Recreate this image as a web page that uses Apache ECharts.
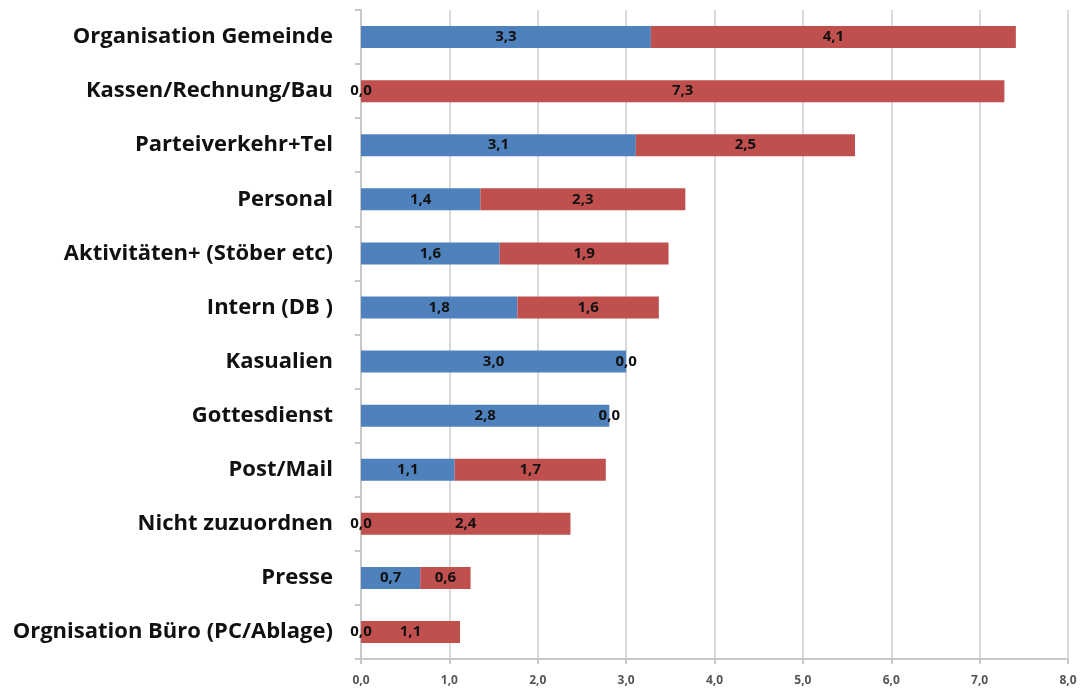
<!DOCTYPE html>
<html><head><meta charset="utf-8">
<script src="https://cdn.jsdelivr.net/npm/echarts@6/dist/echarts.min.js"></script>
<style>html,body{margin:0;padding:0;background:#fff}#c{width:1092px;height:691px}</style>
</head><body><div id="c"></div>
<script>
var categories = ["Organisation Gemeinde","Kassen/Rechnung/Bau","Parteiverkehr+Tel","Personal","Aktivitäten+ (Stöber etc)","Intern (DB )","Kasualien","Gottesdienst","Post/Mail","Nicht zuzuordnen","Presse","Orgnisation Büro (PC/Ablage)"];
var blueValues = [3.28, 0.0, 3.11, 1.35, 1.57, 1.77, 3.0, 2.81, 1.06, 0.0, 0.67, 0.0];
var redValues  = [4.13, 7.28, 2.48, 2.32, 1.91, 1.6, 0.0, 0.0, 1.71, 2.37, 0.57, 1.12];
var xTicks = [0,1,2,3,4,5,6,7,8];

function fmt(v){ return v.toFixed(1).replace('.', ','); }
var labelStyle = {show:true, position:'inside', color:'#111', fontFamily:'Open Sans', fontWeight:'bold', fontSize:15,
  formatter:function(p){return fmt(p.value);}};

var chart = echarts.init(document.getElementById('c'));
chart.setOption({
  animation:false,
  grid:{left:361, right:24, top:10, bottom:32, containLabel:false},
  xAxis:{type:'value', min:0, max:8, interval:1,
    axisLine:{show:true, lineStyle:{color:'#c8c8c8', width:2}},
    axisTick:{show:true, length:5, lineStyle:{color:'#c8c8c8', width:2}},
    splitLine:{show:true, lineStyle:{color:'#d9d9d9', width:2}},
    axisLabel:{color:'#555', fontFamily:'Open Sans', fontWeight:'bold', fontSize:12, margin:16,
      formatter:function(v){return fmt(v);}}
  },
  yAxis:{type:'category', data:categories, inverse:true,
    axisLine:{show:true, lineStyle:{color:'#c8c8c8', width:2}},
    axisTick:{show:true, length:6, lineStyle:{color:'#c8c8c8', width:2}},
    axisLabel:{color:'#111', fontFamily:'Open Sans', fontWeight:'bold', fontSize:22, margin:28}
  },
  series:[
    {name:'A', type:'bar', stack:'s', data:blueValues, barWidth:22,
     itemStyle:{color:'#4F81BD'}, label:labelStyle},
    {name:'B', type:'bar', stack:'s', data:redValues, barWidth:22,
     itemStyle:{color:'#C0504D'}, label:labelStyle}
  ]
});
</script></body></html>
